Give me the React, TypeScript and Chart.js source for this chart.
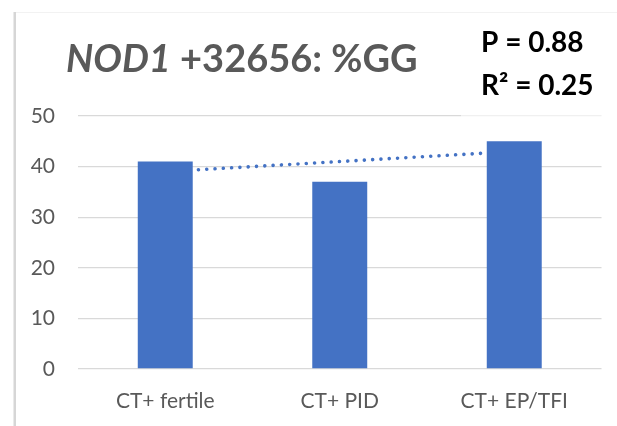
import React, { useEffect, useRef } from "react";
import { Chart, registerables } from "chart.js";

Chart.register(...registerables);

const categories = ["CT+ fertile", "CT+ PID", "CT+ EP/TFI"];
const percentGG = [41, 37, 45];
const trendValues = [39, 41, 43];
const yTicks = [0, 10, 20, 30, 40, 50];
const titleItalic = "NOD1";
const titleRest = " +32656: %GG";
const statLines = ["P = 0.88", "R\u00B2 = 0.25"];

const FONT = "Lato, 'Open Sans', sans-serif";
const BLUE = "#4472C4";
const GRAY = "#595959";
const GRID = "#d9d9d9";

const overlay = {
  id: "overlay",
  beforeDraw(chart: any) {
    const ctx = chart.ctx;
    ctx.save();
    ctx.fillStyle = "#ffffff";
    ctx.fillRect(0, 0, chart.width, chart.height);
    ctx.fillStyle = "#d6d6d6";
    ctx.fillRect(13.5, 12, 2.5, chart.height - 12);
    ctx.fillStyle = "#f2f2f2";
    ctx.fillRect(16, 12, chart.width - 16, 1);
    ctx.restore();
  },
  afterDraw(chart: any) {
    const ctx = chart.ctx;
    ctx.save();
    ctx.fillStyle = "rgba(255,255,255,0.6)";
    ctx.fillRect(461, 14, chart.width - 461, 104);
    ctx.textBaseline = "alphabetic";
    ctx.textAlign = "left";
    ctx.fillStyle = GRAY;
    ctx.font = `italic bold 38px ${FONT}`;
    ctx.fillText(titleItalic, 66, 72);
    const w = ctx.measureText(titleItalic).width;
    ctx.font = `bold 38px ${FONT}`;
    ctx.fillText(titleRest, 66 + w, 72);
    ctx.fillStyle = "#000000";
    ctx.font = `bold 28px ${FONT}`;
    ctx.fillText(statLines[0], 481, 52);
    ctx.fillText(statLines[1], 481, 95);
    ctx.restore();
  },
};

export default function App() {
  const ref = useRef<HTMLCanvasElement | null>(null);
  useEffect(() => {
    document.body.style.margin = "0";
    const canvas = ref.current;
    if (!canvas) return;
    const chart = new Chart(canvas, {
      type: "bar",
      data: {
        labels: categories,
        datasets: [
          {
            type: "bar",
            data: percentGG,
            backgroundColor: BLUE,
            barPercentage: 0.315,
            categoryPercentage: 1,
            order: 1,
          },
          {
            type: "line",
            data: trendValues,
            borderColor: BLUE,
            borderWidth: 3.6,
            borderDash: [0.01, 8.3],
            borderCapStyle: "round",
            pointRadius: 0,
            fill: false,
            tension: 0,
            order: 2,
          } as any,
        ],
      },
      options: {
        responsive: false,
        animation: false,
        devicePixelRatio: 1,
        layout: { padding: { top: 116, right: 15.5, left: 0, bottom: 0 } },
        plugins: {
          legend: { display: false },
          title: { display: false },
          tooltip: { enabled: false },
        },
        scales: {
          x: {
            grid: { display: false },
            border: { display: false },
            ticks: {
              color: GRAY,
              font: { family: FONT, size: 21 },
              padding: 12,
            },
            afterFit: (s: any) => {
              s.height = 57;
            },
          },
          y: {
            min: 0,
            max: 50,
            afterBuildTicks: (s: any) => {
              s.ticks = yTicks.map((v) => ({ value: v }));
            },
            grid: { color: GRID, lineWidth: 1.3, drawTicks: false },
            border: { display: false },
            ticks: {
              color: GRAY,
              font: { family: FONT, size: 21 },
              padding: 23,
            },
            afterFit: (s: any) => {
              s.width = 78;
            },
          },
        },
      },
      plugins: [overlay],
    });
    return () => chart.destroy();
  }, []);
  return (
    <div style={{ width: 617, height: 426 }}>
      <canvas ref={ref} width={617} height={426} style={{ width: 617, height: 426, display: "block" }} />
    </div>
  );
}
